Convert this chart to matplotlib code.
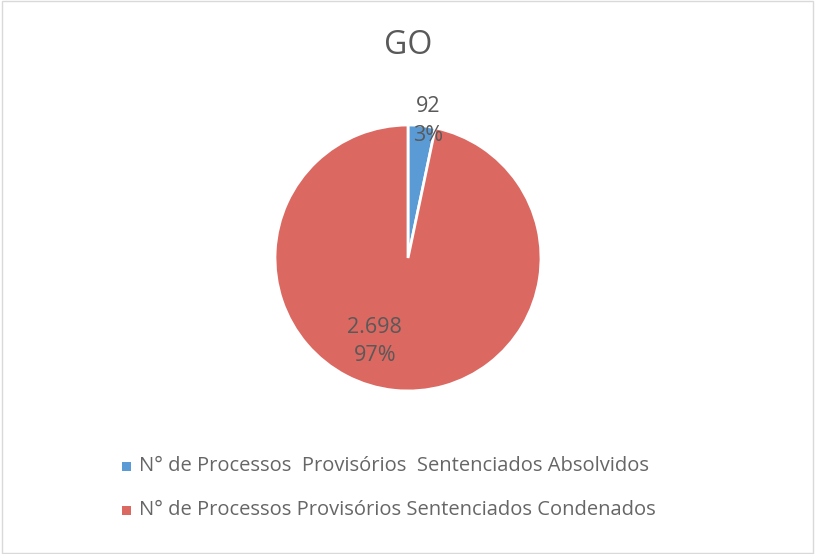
import matplotlib.pyplot as plt
from matplotlib.patches import Rectangle
import numpy as np

plt.rcParams['font.family'] = ['Open Sans', 'DejaVu Sans']

title = "GO"
labels = ["N° de Processos  Provisórios  Sentenciados Absolvidos",
          "N° de Processos Provisórios Sentenciados Condenados"]
values = [92, 2698]
value_text = ["92", "2.698"]
colors = ['#5B9BD5', '#DB6861']

fig = plt.figure(figsize=(8.15, 5.54), dpi=100)
fig.patches.append(Rectangle((0.002, 0.002), 0.996, 0.996, transform=fig.transFigure,
                             fill=False, edgecolor='#D9D9D9', linewidth=1))

# pie area: center (408,258), radius ~133 px
r_px = 133
ax = fig.add_axes([(408 - r_px) / 815, 1 - (258 + r_px) / 554, 2 * r_px / 815, 2 * r_px / 554])
wedges, _ = ax.pie(values, colors=colors, startangle=90, counterclock=False,
                   wedgeprops=dict(edgecolor='white', linewidth=2))
ax.set_xlim(-1, 1)
ax.set_ylim(-1, 1)
ax.set_aspect('auto')
ax.axis('off')

total = sum(values)
pct = [round(v / total * 100) for v in values]
# label positions in pie units
label_pos = [(0.15, 1.03), (-0.25, -0.63)]
for i in range(len(values)):
    ax.text(label_pos[i][0], label_pos[i][1], f"{value_text[i]}\n{pct[i]}%",
            ha='center', va='center', fontsize=15.5, color='#595959', linespacing=1.45)

fig.text(408 / 815, 1 - 45 / 554, title, ha='center', va='center', fontsize=23, color='#595959')

# legend
leg_y = [466, 510]
for i in range(len(labels)):
    y = 1 - leg_y[i] / 554
    fig.patches.append(Rectangle((122 / 815, y - 5 / 554), 9 / 815, 9 / 554,
                                 transform=fig.transFigure, facecolor=colors[i], edgecolor='none'))
    fig.text(139 / 815, y, labels[i], ha='left', va='center', fontsize=14.5, color='#666666')

fig.savefig('out.png', dpi=100)
